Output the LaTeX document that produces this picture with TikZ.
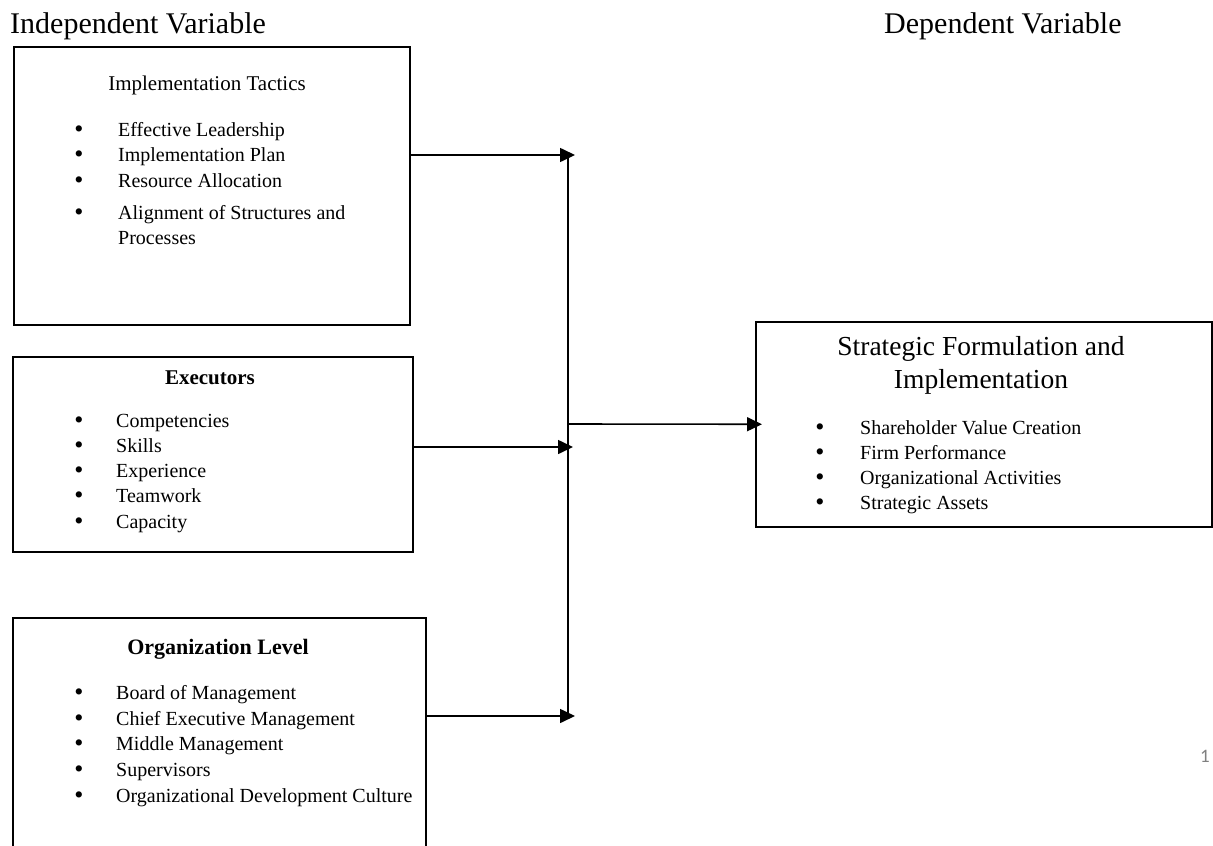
\documentclass[tikz,border=0pt]{standalone}
\usepackage{fontspec}
\setmainfont{Liberation Serif}
\newfontfamily\pagenumfont{Carlito}
\usetikzlibrary{arrows.meta}
\tikzset{
  box/.style={draw=black, line width=1.5pt, anchor=north west, inner sep=0pt},
  hdr/.style={anchor=base west, font=\fontsize{30}{34}\selectfont, inner sep=0pt},
  ttl/.style={anchor=base, font=\fontsize{21}{25}\selectfont, inner sep=0pt},
  btl/.style={anchor=base, font=\bfseries\fontsize{21}{25}\selectfont, inner sep=0pt},
  itm/.style={anchor=base west, font=\fontsize{20}{24}\selectfont, inner sep=0pt},
  bul/.style={anchor=base, font=\fontsize{26}{28}\selectfont, inner sep=0pt, yshift=-1.5pt},
  arr/.style={line width=1.6pt, -{Triangle[length=15pt,width=14pt]}},
  conn/.style={line width=1.6pt}
}
\begin{document}
\begin{tikzpicture}[x=1pt,y=-1pt]
\useasboundingbox (0,0) rectangle (1213,846);
\clip (0,0) rectangle (1213,846);
\fill[white] (0,0) rectangle (1213,846);

% headers
\node[hdr] (ivh) at (10,33) {Independent Variable};
\node[hdr] (dvh) at (884,33) {Dependent Variable};

% box 1
\node[box, minimum width=396pt, minimum height=278pt] (b1) at (13,46) {};
\node[ttl] (b1t) at (207,90) {Implementation Tactics};
\node[bul] (b1b1) at (79,136) {\textbullet};
\node[itm] (b1i1) at (118,136) {Effective Leadership};
\node[bul] (b1b2) at (79,161) {\textbullet};
\node[itm] (b1i2) at (118,161) {Implementation Plan};
\node[bul] (b1b3) at (79,187) {\textbullet};
\node[itm] (b1i3) at (118,187) {Resource Allocation};
\node[bul] (b1b4) at (79,219) {\textbullet};
\node[itm] (b1i4) at (118,219) {Alignment of Structures and};
\node[itm] (b1i5) at (118,244) {Processes};

% box 2
\node[box, minimum width=400pt, minimum height=195pt] (b2) at (12,356) {};
\node[btl] (b2t) at (210,384) {Executors};
\node[bul] (b2b1) at (79,427) {\textbullet};
\node[itm] (b2i1) at (116,427) {Competencies};
\node[bul] (b2b2) at (79,452) {\textbullet};
\node[itm] (b2i2) at (116,452) {Skills};
\node[bul] (b2b3) at (79,477) {\textbullet};
\node[itm] (b2i3) at (116,477) {Experience};
\node[bul] (b2b4) at (79,502) {\textbullet};
\node[itm] (b2i4) at (116,502) {Teamwork};
\node[bul] (b2b5) at (79,528) {\textbullet};
\node[itm] (b2i5) at (116,528) {Capacity};

% box 3 (cut by the lower edge)
\node[box, minimum width=413pt, minimum height=260pt] (b3) at (12,617) {};
\node[btl, font=\bfseries\fontsize{22}{26}\selectfont] (b3t) at (218,654) {Organization Level};
\node[bul] (b3b1) at (79,699) {\textbullet};
\node[itm] (b3i1) at (116,699) {Board of Management};
\node[bul] (b3b2) at (79,725) {\textbullet};
\node[itm] (b3i2) at (116,725) {Chief Executive Management};
\node[bul] (b3b3) at (79,750) {\textbullet};
\node[itm] (b3i3) at (116,750) {Middle Management};
\node[bul] (b3b4) at (79,776) {\textbullet};
\node[itm] (b3i4) at (116,776) {Supervisors};
\node[bul] (b3b5) at (79,802) {\textbullet};
\node[itm] (b3i5) at (116,802) {Organizational Development Culture};

% right box
\node[box, minimum width=456pt, minimum height=205pt] (rb) at (755,321) {};
\node[anchor=base, font=\fontsize{27.5}{32}\selectfont, inner sep=0pt] (rbt1) at (981,355) {Strategic Formulation and};
\node[anchor=base, font=\fontsize{27.5}{32}\selectfont, inner sep=0pt] (rbt2) at (981,388) {Implementation};
\node[bul] (rbb1) at (820,434) {\textbullet};
\node[itm] (rbi1) at (860,434) {Shareholder Value Creation};
\node[bul] (rbb2) at (820,459) {\textbullet};
\node[itm] (rbi2) at (860,459) {Firm Performance};
\node[bul] (rbb3) at (820,484) {\textbullet};
\node[itm] (rbi3) at (860,484) {Organizational Activities};
\node[bul] (rbb4) at (820,509) {\textbullet};
\node[itm] (rbi4) at (860,509) {Strategic Assets};

% connectors
\coordinate (top) at (568,155);
\coordinate (bot) at (568,718);
\coordinate (mid) at (568,424);
\coordinate (j1) at (575,155);
\coordinate (j2) at (573,447);
\coordinate (j3) at (575,716);
\draw[conn] (top) -- (bot);
\draw[arr] (b1.east |- j1) -- (j1);
\draw[arr] (b2.east |- j2) -- (j2);
\draw[arr] (b3.east |- j3) -- (j3);
\draw[arr] (mid) -- ([xshift=7pt]rb.west);

% page number
\node[anchor=base, font=\pagenumfont\fontsize{19}{22}\selectfont, text=gray, inner sep=0pt] (pn) at (1205,762) {1};
\end{tikzpicture}
\end{document}
